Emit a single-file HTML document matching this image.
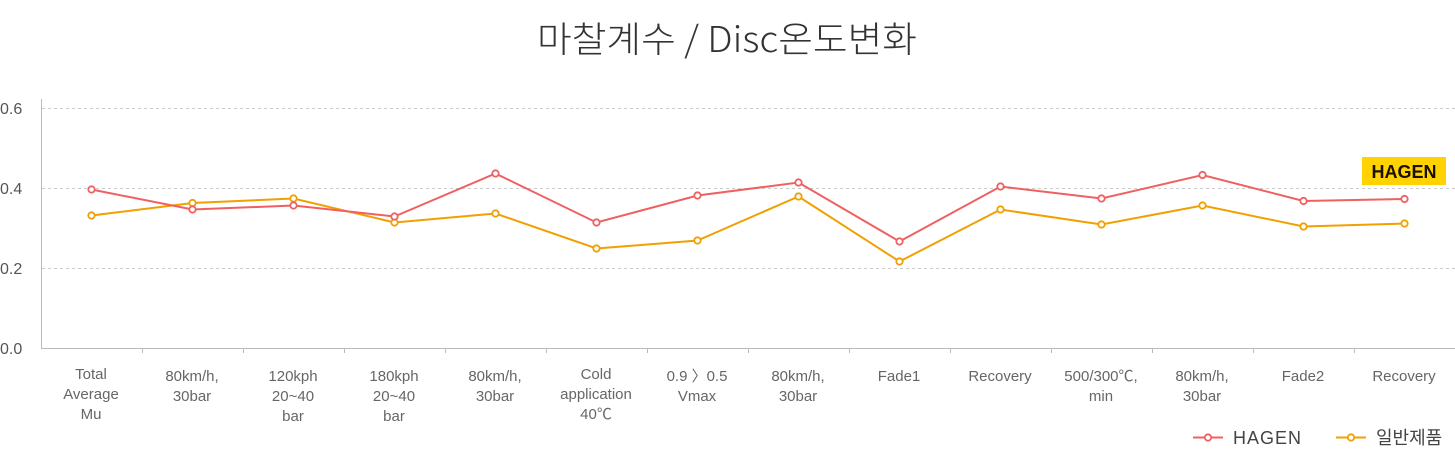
<!DOCTYPE html>
<html><head><meta charset="utf-8"><style>
body{margin:0;background:#fff;}
svg{display:block;font-family:"Liberation Sans","Noto Sans CJK KR",sans-serif;}
</style></head><body>
<svg width="1455" height="450" viewBox="0 0 1455 450">
<text x="727" y="52" text-anchor="middle" font-size="36" fill="#333" textLength="380" lengthAdjust="spacingAndGlyphs" style="font-family:'Noto Sans CJK KR','Liberation Sans',sans-serif;font-weight:300">마찰계수 / Disc온도변화</text>
<g stroke="#ccc" stroke-dasharray="3,3" stroke-width="1">
<line x1="42" y1="108.5" x2="1455" y2="108.5"/>
<line x1="42" y1="188.5" x2="1455" y2="188.5"/>
<line x1="42" y1="268.5" x2="1455" y2="268.5"/>
</g>
<line x1="41.5" y1="99" x2="41.5" y2="349" stroke="#bbb"/>
<line x1="41" y1="348.5" x2="1455" y2="348.5" stroke="#bbb"/>
<g stroke="#bbb">
<line x1="142.5" y1="348" x2="142.5" y2="353"/><line x1="243.5" y1="348" x2="243.5" y2="353"/><line x1="344.5" y1="348" x2="344.5" y2="353"/><line x1="445.5" y1="348" x2="445.5" y2="353"/><line x1="546.5" y1="348" x2="546.5" y2="353"/><line x1="647.5" y1="348" x2="647.5" y2="353"/><line x1="748.5" y1="348" x2="748.5" y2="353"/><line x1="849.5" y1="348" x2="849.5" y2="353"/><line x1="950.5" y1="348" x2="950.5" y2="353"/><line x1="1051.5" y1="348" x2="1051.5" y2="353"/><line x1="1152.5" y1="348" x2="1152.5" y2="353"/><line x1="1253.5" y1="348" x2="1253.5" y2="353"/><line x1="1354.5" y1="348" x2="1354.5" y2="353"/>
</g>
<g font-size="16" fill="#555">
<text x="0" y="114">0.6</text><text x="0" y="194">0.4</text><text x="0" y="274">0.2</text><text x="0" y="354">0.0</text>
</g>
<g font-size="15" fill="#666" text-anchor="middle">
<text x="91" y="379">Total</text><text x="91" y="399">Average</text><text x="91" y="419">Mu</text>
<text x="192" y="381">80km/h,</text><text x="192" y="401">30bar</text>
<text x="293" y="381">120kph</text><text x="293" y="401">20~40</text><text x="293" y="421">bar</text>
<text x="394" y="381">180kph</text><text x="394" y="401">20~40</text><text x="394" y="421">bar</text>
<text x="495" y="381">80km/h,</text><text x="495" y="401">30bar</text>
<text x="596" y="379">Cold</text><text x="596" y="399">application</text><text x="596" y="419">40℃</text>
<text x="697" y="381">0.9 〉0.5</text><text x="697" y="401">Vmax</text>
<text x="798" y="381">80km/h,</text><text x="798" y="401">30bar</text>
<text x="899" y="381">Fade1</text>
<text x="1000" y="381">Recovery</text>
<text x="1101" y="381">500/300℃,</text><text x="1101" y="401">min</text>
<text x="1202" y="381">80km/h,</text><text x="1202" y="401">30bar</text>
<text x="1303" y="381">Fade2</text>
<text x="1404" y="381">Recovery</text>
</g>
<polyline fill="none" stroke="#f0a000" stroke-width="2" points="91.5,215.5 192.5,203 293.5,198.5 394.5,222.5 495.5,213.5 596.5,248.5 697.5,240.5 798.5,196.5 899.5,261.5 1000.5,209.5 1101.5,224.5 1202.5,205.5 1303.5,226.5 1404.5,223.5"/>
<g fill="#fff" stroke="#f0a000" stroke-width="1.8">
<circle cx="91.5" cy="215.5" r="3.2"/><circle cx="192.5" cy="203" r="3.2"/><circle cx="293.5" cy="198.5" r="3.2"/><circle cx="394.5" cy="222.5" r="3.2"/><circle cx="495.5" cy="213.5" r="3.2"/><circle cx="596.5" cy="248.5" r="3.2"/><circle cx="697.5" cy="240.5" r="3.2"/><circle cx="798.5" cy="196.5" r="3.2"/><circle cx="899.5" cy="261.5" r="3.2"/><circle cx="1000.5" cy="209.5" r="3.2"/><circle cx="1101.5" cy="224.5" r="3.2"/><circle cx="1202.5" cy="205.5" r="3.2"/><circle cx="1303.5" cy="226.5" r="3.2"/><circle cx="1404.5" cy="223.5" r="3.2"/>
</g>
<polyline fill="none" stroke="#f06060" stroke-width="2" points="91.5,189.5 192.5,209.5 293.5,205.5 394.5,216.5 495.5,173.5 596.5,222.5 697.5,195.5 798.5,182.5 899.5,241.5 1000.5,186.5 1101.5,198.5 1202.5,175 1303.5,201 1404.5,199"/>
<g fill="#fff" stroke="#f06060" stroke-width="1.8">
<circle cx="91.5" cy="189.5" r="3.2"/><circle cx="192.5" cy="209.5" r="3.2"/><circle cx="293.5" cy="205.5" r="3.2"/><circle cx="394.5" cy="216.5" r="3.2"/><circle cx="495.5" cy="173.5" r="3.2"/><circle cx="596.5" cy="222.5" r="3.2"/><circle cx="697.5" cy="195.5" r="3.2"/><circle cx="798.5" cy="182.5" r="3.2"/><circle cx="899.5" cy="241.5" r="3.2"/><circle cx="1000.5" cy="186.5" r="3.2"/><circle cx="1101.5" cy="198.5" r="3.2"/><circle cx="1202.5" cy="175" r="3.2"/><circle cx="1303.5" cy="201" r="3.2"/><circle cx="1404.5" cy="199" r="3.2"/>
</g>
<rect x="1362" y="157" width="84" height="28" fill="#ffd200"/>
<text x="1404" y="178" text-anchor="middle" font-size="18" font-weight="bold" fill="#1a1000">HAGEN</text>
<line x1="1193" y1="437.5" x2="1223" y2="437.5" stroke="#f06060" stroke-width="2"/>
<circle cx="1208" cy="437.5" r="3.2" fill="#fff" stroke="#f06060" stroke-width="1.8"/>
<text x="1233" y="444" font-size="18" fill="#444" letter-spacing="1">HAGEN</text>
<line x1="1336" y1="437.5" x2="1366" y2="437.5" stroke="#f0a000" stroke-width="2"/>
<circle cx="1351" cy="437.5" r="3.2" fill="#fff" stroke="#f0a000" stroke-width="1.8"/>
<text x="1376" y="444" font-size="18" fill="#444">일반제품</text>
</svg>
</body></html>
